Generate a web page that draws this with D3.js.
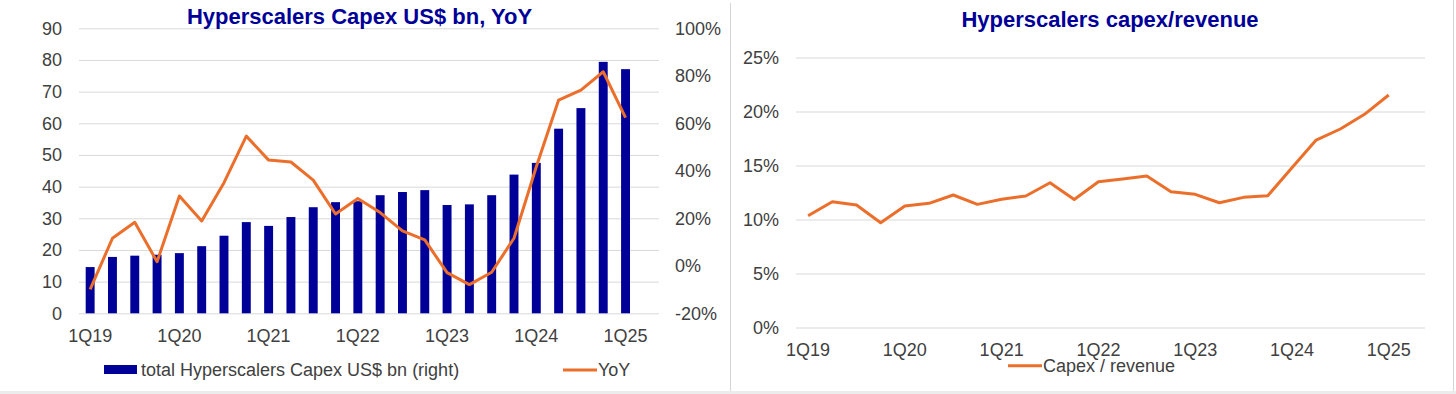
<!DOCTYPE html>
<html>
<head>
<meta charset="utf-8">
<script src="https://cdn.jsdelivr.net/npm/d3@7"></script>
<style>
  body { margin: 0; background: #fff; }
  svg { display: block; font-family: "Liberation Sans", Arial, sans-serif; }
</style>
</head>
<body>
<div id="display"></div>
<script>
// quarters 1Q19..1Q25
var quarters = ["1Q19","2Q19","3Q19","4Q19","1Q20","2Q20","3Q20","4Q20",
  "1Q21","2Q21","3Q21","4Q21","1Q22","2Q22","3Q22","4Q22",
  "1Q23","2Q23","3Q23","4Q23","1Q24","2Q24","3Q24","4Q24","1Q25"];
// the source sheet keeps an empty slot after the last quarter
var emptySlot = ["2Q25"];
var tickQuarters = ["1Q19","1Q20","1Q21","1Q22","1Q23","1Q24","1Q25"];

// total capex, US$ bn
var capex = [14.6, 17.8, 18.2, 18.5, 19.0, 21.2, 24.5, 28.8,
  27.6, 30.4, 33.5, 35.1, 35.4, 37.3, 38.3, 38.9,
  34.2, 34.4, 37.3, 43.8, 47.5, 58.3, 64.8, 79.4, 77.1];
// YoY growth, %
var yoy = [-9.9, 11.6, 18.3, 1.7, 29.4, 18.9, 35.0, 54.6,
  44.5, 43.7, 36.1, 21.8, 28.3, 22.4, 14.7, 10.9,
  -2.9, -7.9, -2.7, 11.6, 41.7, 69.8, 74.0, 81.7, 62.4];
// capex / revenue, %
var capexRev = [10.35, 11.65, 11.34, 9.7, 11.25, 11.5, 12.27, 11.4,
  11.87, 12.18, 13.4, 11.85, 13.5, 13.75, 14.03, 12.57,
  12.33, 11.55, 12.05, 12.2, 14.8, 17.36, 18.38, 19.74, 21.53];

var leftTicks = d3.range(0, 91, 10);
var rightTicks = [-20, 0, 20, 40, 60, 80, 100];
var ratioTicks = [0, 5, 10, 15, 20, 25];

var blue = "#000099", orange = "#EB6F2B", grid = "#d9d9d9", txt = "#404040";

var svg = d3.select("#display").append("svg")
  .attr("width", 1456).attr("height", 394);

// panel frame
svg.append("rect").attr("x", 0).attr("y", 391).attr("width", 1456).attr("height", 3).attr("fill", "#ececec");
svg.append("line").attr("x1", 730.5).attr("x2", 730.5).attr("y1", 3).attr("y2", 391).attr("stroke", "#d4d4d4");
svg.append("line").attr("x1", 1453.5).attr("x2", 1453.5).attr("y1", 0).attr("y2", 391).attr("stroke", "#d4d4d4");

function styleAxis(g) {
  g.select(".domain").remove();
  g.selectAll("text").attr("fill", txt).style("font-size", "18px")
    .style("font-family", '"Liberation Sans", Arial, sans-serif');
}

// ---------- left chart ----------
var x1 = d3.scaleBand().domain(quarters.concat(emptySlot)).range([79, 659])
  .paddingInner(0.6).paddingOuter(0.3);
var yL = d3.scaleLinear().domain([0, 90]).range([313.3, 28.3]);
var yR = d3.scaleLinear().domain([-20, 100]).range([313.3, 28.3]);

svg.append("g").selectAll("line").data(leftTicks).enter().append("line")
  .attr("x1", 79).attr("x2", 659)
  .attr("y1", function(d){ return yL(d) + 0.5; }).attr("y2", function(d){ return yL(d) + 0.5; })
  .attr("stroke", grid).attr("stroke-width", 1);

svg.append("g").attr("transform", "translate(79,0)")
  .call(d3.axisLeft(yL).tickValues(leftTicks).tickSize(0).tickPadding(17))
  .call(styleAxis);
svg.append("g").attr("transform", "translate(659,0)")
  .call(d3.axisRight(yR).tickValues(rightTicks).tickSize(0).tickPadding(16)
    .tickFormat(function(d){ return d + "%"; }))
  .call(styleAxis);
svg.append("g").attr("transform", "translate(0,313.3)")
  .call(d3.axisBottom(x1).tickValues(tickQuarters).tickSize(0).tickPadding(16))
  .call(styleAxis);

svg.append("g").selectAll("rect").data(capex).enter().append("rect")
  .attr("x", function(d, i){ return x1(quarters[i]); })
  .attr("width", x1.bandwidth())
  .attr("y", function(d){ return yL(d); })
  .attr("height", function(d){ return yL(0) - yL(d); })
  .attr("fill", blue);

var lineL = d3.line()
  .x(function(d, i){ return x1(quarters[i]) + x1.bandwidth() / 2; })
  .y(function(d){ return yR(d); });
svg.append("path").datum(yoy).attr("d", lineL)
  .attr("fill", "none").attr("stroke", orange).attr("stroke-width", 3)
  .attr("stroke-linejoin", "round");

svg.append("text").attr("x", 359.5).attr("y", 23.5).attr("text-anchor", "middle")
  .attr("fill", blue).style("font-size", "22px").style("font-weight", "bold")
  .text("Hyperscalers Capex US$ bn, YoY");

// legend left
svg.append("rect").attr("x", 104).attr("y", 365).attr("width", 33).attr("height", 9).attr("fill", blue);
svg.append("text").attr("x", 141).attr("y", 376).attr("fill", txt).style("font-size", "18px")
  .text("total Hyperscalers Capex US$ bn (right)");
svg.append("line").attr("x1", 563).attr("x2", 597).attr("y1", 370).attr("y2", 370)
  .attr("stroke", orange).attr("stroke-width", 3);
svg.append("text").attr("x", 598).attr("y", 376).attr("fill", txt).style("font-size", "18px")
  .text("YoY");

// ---------- right chart ----------
var x2 = d3.scaleBand().domain(quarters.concat(emptySlot)).range([796, 1425]);
var y2 = d3.scaleLinear().domain([0, 25]).range([327.5, 57.5]);

svg.append("g").selectAll("line").data(ratioTicks).enter().append("line")
  .attr("x1", 796).attr("x2", 1425)
  .attr("y1", function(d){ return y2(d) + 0.5; }).attr("y2", function(d){ return y2(d) + 0.5; })
  .attr("stroke", grid).attr("stroke-width", 1);

svg.append("g").attr("transform", "translate(796,0)")
  .call(d3.axisLeft(y2).tickValues(ratioTicks).tickSize(0).tickPadding(17)
    .tickFormat(function(d){ return d + "%"; }))
  .call(styleAxis);
svg.append("g").attr("transform", "translate(0,327.5)")
  .call(d3.axisBottom(x2).tickValues(tickQuarters).tickSize(0).tickPadding(16))
  .call(styleAxis);

var lineR = d3.line()
  .x(function(d, i){ return x2(quarters[i]) + x2.bandwidth() / 2; })
  .y(function(d){ return y2(d); });
svg.append("path").datum(capexRev).attr("d", lineR)
  .attr("fill", "none").attr("stroke", orange).attr("stroke-width", 3)
  .attr("stroke-linejoin", "round");

svg.append("text").attr("x", 1110).attr("y", 26.7).attr("text-anchor", "middle")
  .attr("fill", blue).style("font-size", "22px").style("font-weight", "bold")
  .text("Hyperscalers capex/revenue");

svg.append("line").attr("x1", 1008).attr("x2", 1042).attr("y1", 365.7).attr("y2", 365.7)
  .attr("stroke", orange).attr("stroke-width", 3);
svg.append("text").attr("x", 1043).attr("y", 371.7).attr("fill", txt).style("font-size", "18px")
  .text("Capex / revenue");
</script>
</body>
</html>
